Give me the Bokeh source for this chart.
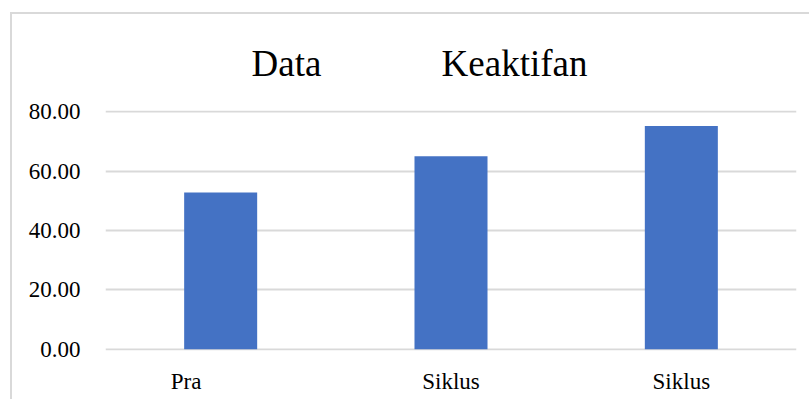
from bokeh.plotting import figure
from bokeh.models import Range1d, FixedTicker, NumeralTickFormatter, Title, ColumnDataSource
from bokeh.embed import file_html
from bokeh.resources import INLINE

# data
categories = ["Pra", "Siklus", "Siklus"]
values = [52.8, 65.0, 75.2]
y_ticks = [0, 20, 40, 60, 80]
title_words = ["Data", "Keaktifan"]

FONT = "Liberation Serif"

positions = [i + 0.5 for i in range(len(categories))]
src = ColumnDataSource(dict(x=positions, top=values))

p = figure(width=799, height=387, output_backend="svg", toolbar_location=None,
           x_range=Range1d(0, len(categories)), y_range=Range1d(-0.4, 80.4),
           min_border_left=93, min_border_right=15, min_border_top=96,
           min_border_bottom=51)
p.styles = {"border-top": "2px solid #d9d9d9", "border-left": "2px solid #d9d9d9",
            "margin-left": "10px", "margin-top": "12px"}

p.vbar(x="x", top="top", bottom=0, width=0.317, source=src,
       fill_color="#4472C4", line_color=None)

nb = "\u00a0"
p.title = Title(text=title_words[0] + nb * 13 + title_words[1], align="left",
                offset=146, text_font=FONT, text_font_size="37px",
                text_font_style="normal", text_color="#000000", standoff=53)

p.outline_line_color = None
p.background_fill_color = "white"
p.border_fill_color = "white"

p.xgrid.grid_line_color = None
p.ygrid.ticker = FixedTicker(ticks=y_ticks)
p.ygrid.grid_line_color = "#d9d9d9"
p.ygrid.grid_line_width = 2

p.yaxis.ticker = FixedTicker(ticks=y_ticks)
p.yaxis.formatter = NumeralTickFormatter(format="0.00")
p.yaxis.axis_line_color = None
p.yaxis.major_tick_line_color = None
p.yaxis.minor_tick_line_color = None
p.yaxis.major_label_standoff = 19
p.yaxis.major_label_text_font = FONT
p.yaxis.major_label_text_font_size = "23px"
p.yaxis.major_label_text_color = "#000000"

p.xaxis.ticker = FixedTicker(ticks=positions)
overrides = {}
for i, (pos, lab) in enumerate(zip(positions, categories)):
    overrides[pos] = lab + (nb * 12 if i == 0 else "")
p.xaxis.major_label_overrides = overrides
p.xaxis.axis_line_color = None
p.xaxis.major_tick_line_color = None
p.xaxis.minor_tick_line_color = None
p.xaxis.major_label_standoff = 12
p.xaxis.major_label_text_font = FONT
p.xaxis.major_label_text_font_size = "23px"
p.xaxis.major_label_text_color = "#000000"

open("out.html", "w").write(file_html(p, INLINE))
